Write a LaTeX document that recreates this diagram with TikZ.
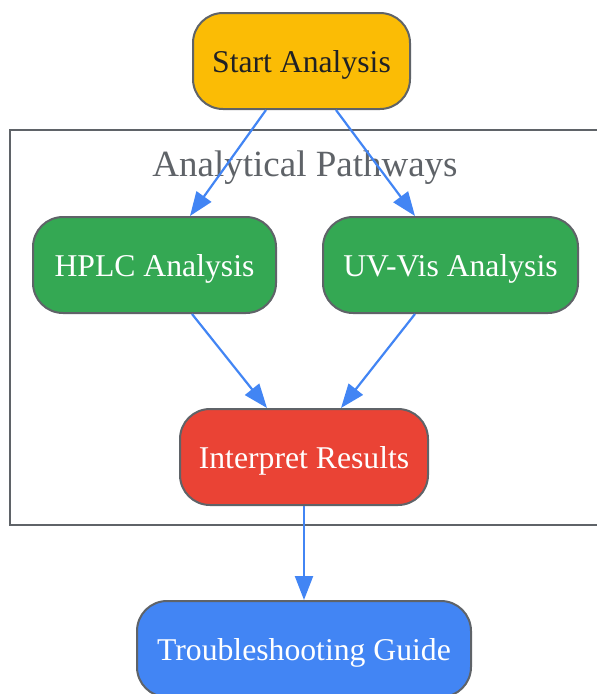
\documentclass[tikz,border=0pt]{standalone}
\usepackage{fontspec}
\setmainfont{Liberation Serif}
\usetikzlibrary{arrows.meta}
\definecolor{gyellow}{HTML}{FBBC05}
\definecolor{ggreen}{HTML}{34A853}
\definecolor{gred}{HTML}{EA4335}
\definecolor{gblue}{HTML}{4285F4}
\definecolor{gborder}{HTML}{5F6368}
\definecolor{gtext}{HTML}{202124}
\tikzset{
  box/.style={draw=gborder, line width=2pt, rounded corners=30pt, inner sep=0pt,
    minimum height=96pt, text height=23pt, text depth=0pt,
    font=\fontsize{31.7}{37}\selectfont, text=white},
  conn/.style={draw=gblue, line width=2.2pt, -{Triangle[length=24pt,width=18pt]}},
  cluster/.style={draw=gborder, line width=2pt}
}
\begin{document}
\begin{tikzpicture}[x=1pt,y=-1pt]
\useasboundingbox (0,0) rectangle (597,694);
\clip (0,0) rectangle (597,694);
\draw[cluster] (10,130) rectangle (615,525);
\node[text=gborder, font=\fontsize{37}{44}\selectfont, anchor=base, inner sep=0pt] (clabel) at (305,176) {Analytical Pathways};
\node[box, fill=gyellow, text=gtext, minimum width=217pt] (start) at (301.5,61) {Start Analysis};
\node[box, fill=ggreen, minimum width=243pt] (hplc) at (154.5,265) {HPLC Analysis};
\node[box, fill=ggreen, minimum width=255pt] (uv) at (450.5,265) {UV-Vis Analysis};
\node[box, fill=gred, minimum width=248pt] (interp) at (304,457) {Interpret Results};
\node[box, fill=gblue, minimum width=334pt] (trouble) at (304,649) {Troubleshooting Guide};
\draw[conn] ([xshift=-35.5pt]start.south) -- ([xshift=35.5pt]hplc.north);
\draw[conn] ([xshift=34.5pt]start.south) -- ([xshift=-35.5pt]uv.north);
\draw[conn] ([xshift=37.5pt]hplc.south) -- ([xshift=-37pt]interp.north);
\draw[conn] ([xshift=-35.5pt]uv.south) -- ([xshift=37pt]interp.north);
\draw[conn] (interp.south) -- (trouble.north);
\end{tikzpicture}
\end{document}
